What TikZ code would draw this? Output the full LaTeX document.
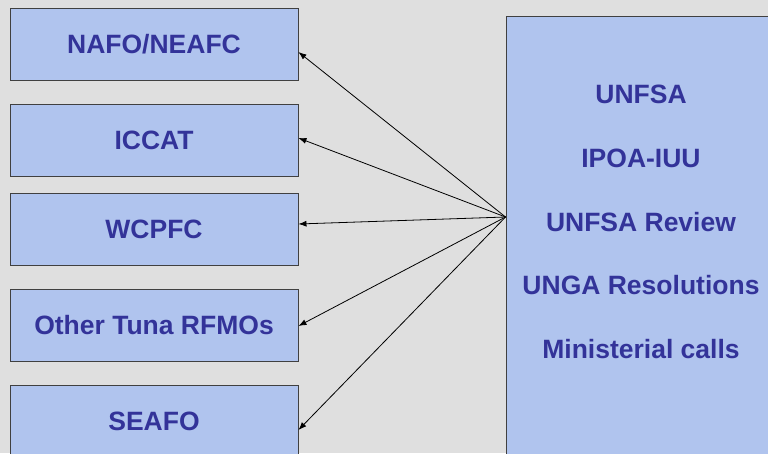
\documentclass[tikz,border=0pt]{standalone}
\usepackage{fontspec}
\setmainfont{Liberation Sans}
\usetikzlibrary{arrows.meta}
\definecolor{bgray}{HTML}{DFDFDF}
\definecolor{boxblue}{HTML}{B0C4EE}
\definecolor{txtblue}{HTML}{333399}
\begin{document}
\begin{tikzpicture}[x=1pt, y=-1pt,
    rfmo/.style={rectangle, draw=black!75, fill=boxblue, line width=0.9pt, minimum width=288pt, minimum height=72pt, inner sep=0pt, text=txtblue, font=\fontsize{26.5}{30}\selectfont\bfseries},
    body/.style={rectangle, draw=black!75, fill=boxblue, line width=0.9pt, minimum width=290pt, minimum height=460pt, inner sep=0pt}]
    \useasboundingbox (0,0) rectangle (768,453);
    \clip (0,0) rectangle (768,453);
    \fill[bgray] (0,0) rectangle (768,453);

    %regional bodies on the left
    \node at (154, 44) [rfmo] (nafo) {NAFO/NEAFC};
    \node at (154, 140) [rfmo] (iccat) {ICCAT};
    \node at (154, 229) [rfmo] (wcpfc) {WCPFC};
    \node at (154, 325) [rfmo] (tuna) {Other Tuna RFMOs};
    \node at (154, 421) [rfmo] (seafo) {SEAFO};

    %global instruments on the right
    \node at (651, 246) [body] (global) {};
    \node at (641, 222) [text=txtblue, align=center, font=\fontsize{26.5}{63.8}\selectfont\bfseries] (instr)
        {UNFSA\\IPOA-IUU\\UNFSA Review\\UNGA Resolutions\\Ministerial calls};
    \coordinate (hub) at (global.west |- 0,217);

    %links
    \draw [-{Latex[length=8pt,width=6pt]}, line width=0.8pt] (hub) -- ([yshift=-8pt]nafo.east);
    \draw [-{Latex[length=8pt,width=6pt]}, line width=0.8pt] (hub) -- ([yshift=2pt]iccat.east);
    \draw [-{Latex[length=8pt,width=6pt]}, line width=0.8pt] (hub) -- ([yshift=5pt]wcpfc.east);
    \draw [-{Latex[length=8pt,width=6pt]}, line width=0.8pt] (hub) -- ([yshift=-1pt]tuna.east);
    \draw [-{Latex[length=8pt,width=6pt]}, line width=0.8pt] (hub) -- ([yshift=-9pt]seafo.east);

\end{tikzpicture}
\end{document}
